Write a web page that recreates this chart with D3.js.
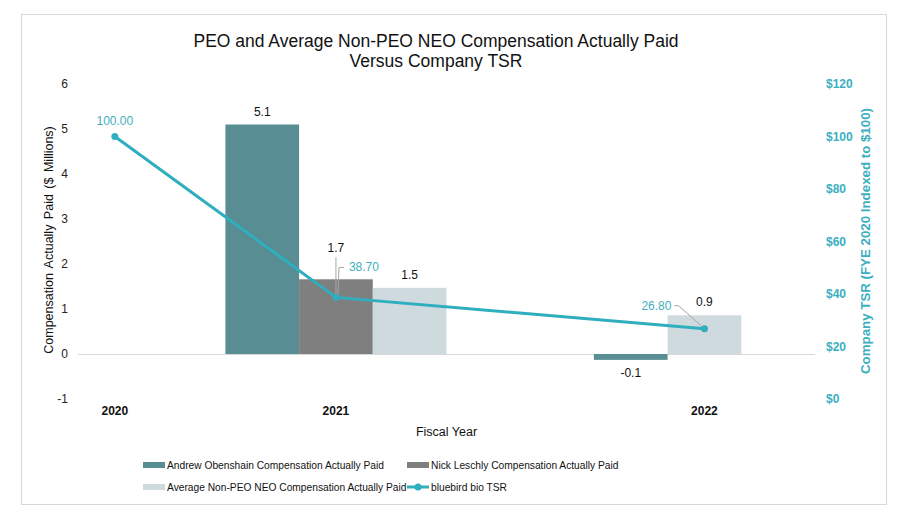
<!DOCTYPE html>
<html><head><meta charset="utf-8">
<script src="https://cdn.jsdelivr.net/npm/d3@7"></script>
<style>body{margin:0;background:#fff}svg{display:block;font-family:"Liberation Sans",Arial,sans-serif}</style>
</head><body>
<svg id="c" width="907" height="510"></svg>
<script>
// ---- data ----
const years = ["2020", "2021", "2022"];
const seriesNames = ["Andrew Obenshain Compensation Actually Paid", "Nick Leschly Compensation Actually Paid", "Average Non-PEO NEO Compensation Actually Paid"];
const andrewValues = [null, 5.1, -0.13];
const nickValues = [null, 1.66, null];
const avgValues = [null, 1.47, 0.86];
const tsrValues = [100.00, 38.70, 26.80];
const tsrName = "bluebird bio TSR";
const leftTicks = [-1, 0, 1, 2, 3, 4, 5, 6];
const rightTicks = [0, 20, 40, 60, 80, 100, 120];
// column slots of the category axis (as laid out in the original chart)
const slots = ["2020", "gapA", "2021|0", "2021|1", "2021|2", "gapB", "gapC", "2022|0", "2022|2", "gapD"];
const tsrSlot = ["2020", "2021|1", "2022|2"];

const colors = ["#578D93", "#7F7F7F", "#CFDADF"];
const lineColor = "#2FAEBE";

const svg = d3.select("#c");
const plot = {l: 78, r: 815, t: 84, b: 399};

svg.append("rect").attr("x", 21.5).attr("y", 14.5).attr("width", 865).attr("height", 490)
  .attr("fill", "#fff").attr("stroke", "#D3DADD").attr("stroke-width", 1);

const x = d3.scaleBand().domain(slots).range([plot.l, plot.r]).padding(0);
const y = d3.scaleLinear().domain([-1, 6]).range([plot.b, plot.t]);
const y2 = d3.scaleLinear().domain([0, 120]).range([plot.b, plot.t]);

const loc = d3.formatLocale({decimal: ".", thousands: ",", grouping: [3], currency: ["$", ""], minus: "-"});

// title
const title = svg.append("text").attr("text-anchor", "middle").attr("font-size", 17.5).attr("fill", "#111");
title.append("tspan").attr("x", 436).attr("y", 47).text("PEO and Average Non-PEO NEO Compensation Actually Paid");
title.append("tspan").attr("x", 436).attr("y", 67).text("Versus Company TSR");

// left axis
const la = svg.append("g").attr("transform", `translate(${plot.l - 10},0)`)
  .call(d3.axisLeft(y).tickValues(leftTicks).tickSize(0).tickPadding(0).tickFormat(loc.format("d")));
la.select(".domain").remove();
la.selectAll("text").attr("font-size", 12).attr("fill", "#222").attr("font-family", "Liberation Sans, Arial, sans-serif");

// right axis
const ra = svg.append("g").attr("transform", `translate(826,0)`)
  .call(d3.axisRight(y2).tickValues(rightTicks).tickSize(0).tickPadding(0).tickFormat(d => "$" + d));
ra.select(".domain").remove();
ra.selectAll("text").attr("font-size", 12).attr("font-weight", "bold").attr("fill", "#3AAFBF").attr("font-family", "Liberation Sans, Arial, sans-serif");

// zero line
svg.append("line").attr("x1", plot.l).attr("x2", plot.r).attr("y1", y(0) + 0.5).attr("y2", y(0) + 0.5)
  .attr("stroke", "#D9D9D9").attr("stroke-width", 1);

// bars
const allSeries = [andrewValues, nickValues, avgValues];
const barData = [];
allSeries.forEach((vals, si) => vals.forEach((v, yi) => {
  if (v !== null) barData.push({si, year: years[yi], v});
}));
svg.append("g").selectAll("rect").data(barData).join("rect")
  .attr("x", d => x(d.year + "|" + d.si))
  .attr("width", x.bandwidth())
  .attr("y", d => y(Math.max(0, d.v)))
  .attr("height", d => Math.abs(y(d.v) - y(0)))
  .attr("fill", d => colors[d.si]);

// leader lines (drawn before labels)
const pts = tsrValues.map((v, i) => ({v, cx: x(tsrSlot[i]) + x.bandwidth() / 2, cy: y2(v)}));
const leaderColor = "#A6A6A6";
const nick = barData.find(d => d.si === 1);
const nx = x(nick.year + "|1") + x.bandwidth() / 2;
svg.append("line").attr("x1", nx).attr("x2", nx).attr("y1", pts[1].cy - 1).attr("y2", y(nick.v) - 22)
  .attr("stroke", leaderColor).attr("stroke-width", 1);
svg.append("polyline").attr("points", `${pts[1].cx + 2},${pts[1].cy - 2} ${pts[1].cx + 3},${pts[1].cy - 30} ${pts[1].cx + 8},${pts[1].cy - 30}`)
  .attr("fill", "none").attr("stroke", leaderColor).attr("stroke-width", 1);
svg.append("polyline").attr("points", `${pts[2].cx},${pts[2].cy} ${pts[2].cx - 26},${pts[2].cy - 23} ${pts[2].cx - 30},${pts[2].cy - 23}`)
  .attr("fill", "none").attr("stroke", leaderColor).attr("stroke-width", 1);

// bar labels
const fmt1 = loc.format(".1f");
svg.append("g").selectAll("text").data(barData).join("text")
  .attr("x", d => x(d.year + "|" + d.si) + x.bandwidth() / 2)
  .attr("y", d => d.v >= 0 ? y(d.v) - (d === nick ? 27 : 9) : y(d.v) + 17)
  .attr("text-anchor", "middle").attr("font-size", 12).attr("fill", "#111")
  .text(d => fmt1(d.v));

// TSR line
svg.append("path").datum(pts)
  .attr("d", d3.line().x(d => d.cx).y(d => d.cy))
  .attr("fill", "none").attr("stroke", lineColor).attr("stroke-width", 3);
svg.append("g").selectAll("circle").data(pts).join("circle")
  .attr("cx", d => d.cx).attr("cy", d => d.cy).attr("r", 3.5).attr("fill", lineColor);

// TSR labels
const fmt2 = loc.format(".2f");
const tl = svg.append("g").attr("font-size", 12).attr("fill", "#3FAFC0");
tl.append("text").attr("x", pts[0].cx).attr("y", pts[0].cy - 12).attr("text-anchor", "middle").text(fmt2(pts[0].v));
tl.append("text").attr("x", pts[1].cx + 13).attr("y", pts[1].cy - 26).attr("text-anchor", "start").text(fmt2(pts[1].v));
tl.append("text").attr("x", pts[2].cx - 33).attr("y", pts[2].cy - 19).attr("text-anchor", "end").text(fmt2(pts[2].v));

// category labels
svg.append("g").selectAll("text").data(years).join("text")
  .attr("x", (d, i) => x(tsrSlot[i]) + x.bandwidth() / 2)
  .attr("y", 415).attr("text-anchor", "middle").attr("font-size", 12).attr("font-weight", "bold").attr("fill", "#111")
  .text(d => d);

// axis titles
svg.append("text").attr("x", (plot.l + plot.r) / 2).attr("y", 436).attr("text-anchor", "middle")
  .attr("font-size", 12.5).attr("fill", "#111").text("Fiscal Year");
svg.append("text").attr("transform", "translate(53,240) rotate(-90)").attr("text-anchor", "middle")
  .attr("font-size", 12.5).attr("fill", "#111").attr("word-spacing", 2).text("Compensation Actually Paid ($ Millions)");
svg.append("text").attr("transform", "translate(870,241) rotate(-90)").attr("text-anchor", "middle")
  .attr("font-size", 13.3).attr("font-weight", "bold").attr("fill", "#3AAFBF").text("Company TSR (FYE 2020 Indexed to $100)");

// legend
const legendItems = [
  {name: seriesNames[0], type: "bar", color: colors[0], lx: 143, ly: 465},
  {name: seriesNames[1], type: "bar", color: colors[1], lx: 407, ly: 465},
  {name: seriesNames[2], type: "bar", color: colors[2], lx: 143, ly: 487},
  {name: tsrName, type: "line", color: lineColor, lx: 407, ly: 487}
];
const lg = svg.append("g").selectAll("g").data(legendItems).join("g")
  .attr("transform", d => `translate(${d.lx},${d.ly})`);
lg.filter(d => d.type === "bar").append("rect").attr("x", 0).attr("y", -3).attr("width", 22).attr("height", 6).attr("fill", d => d.color);
lg.filter(d => d.type === "line").append("line").attr("x1", 0).attr("x2", 22).attr("y1", 0).attr("y2", 0).attr("stroke", d => d.color).attr("stroke-width", 3);
lg.filter(d => d.type === "line").append("circle").attr("cx", 11).attr("cy", 0).attr("r", 3.5).attr("fill", d => d.color);
lg.append("text").attr("transform", "translate(24,4.2) scale(0.93,1)").attr("font-size", 11).attr("fill", "#111").text(d => d.name);
</script>
</body></html>
